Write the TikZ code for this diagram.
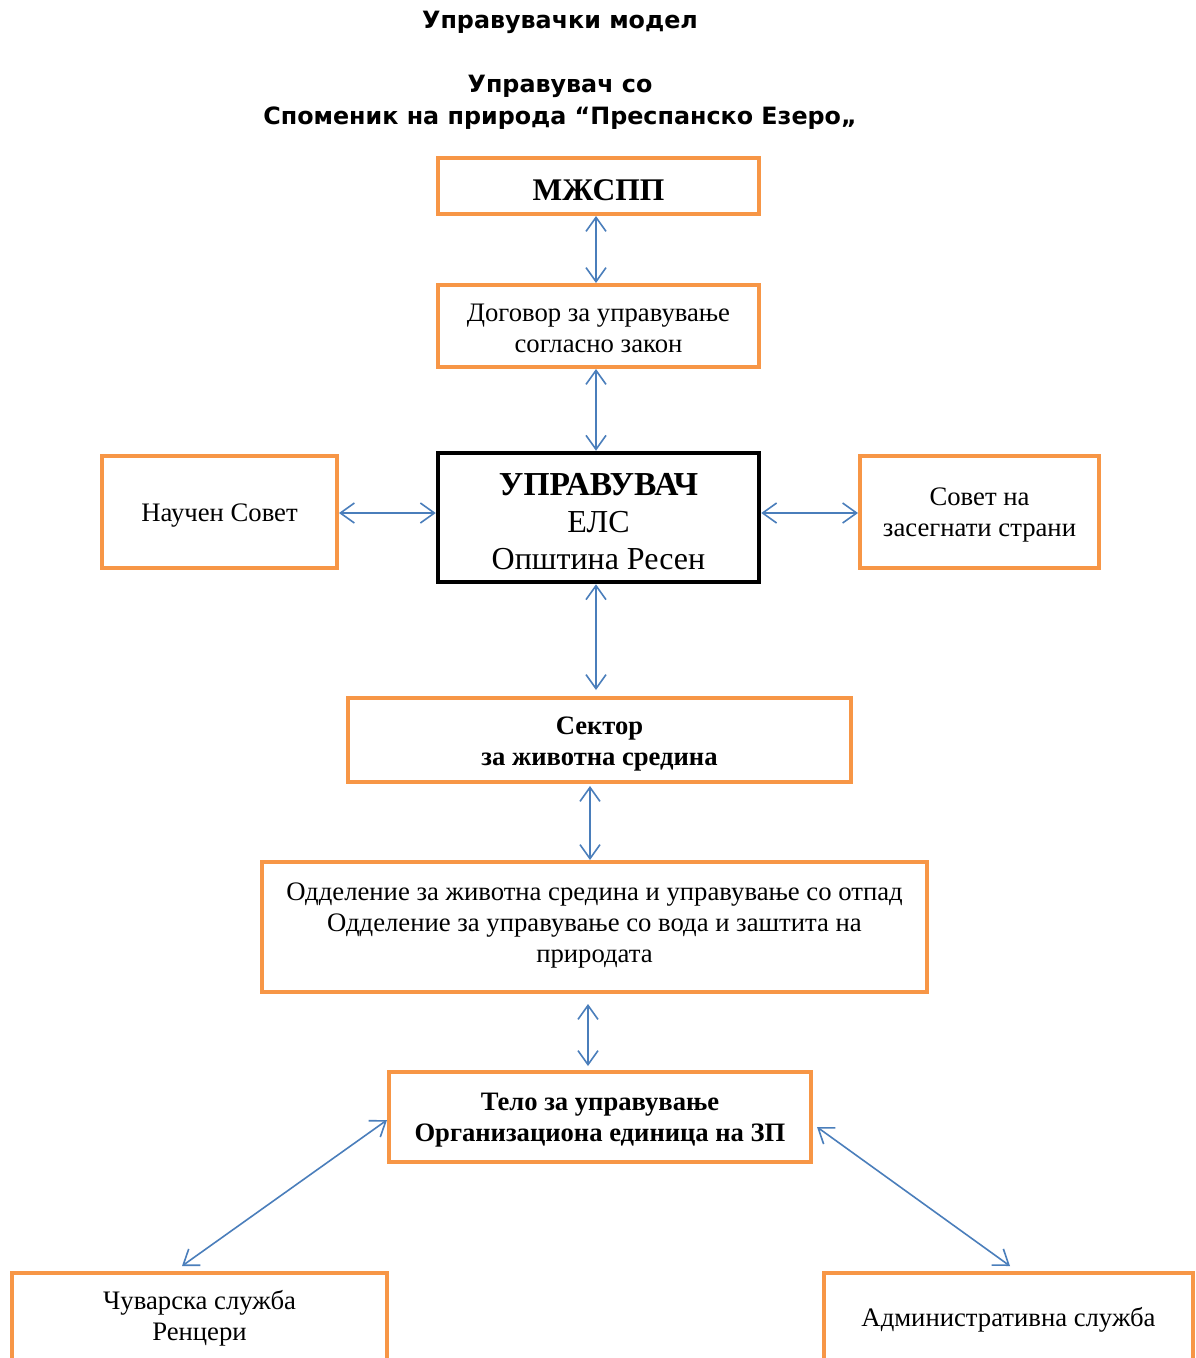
\documentclass[tikz,border=0pt]{standalone}
\usepackage{fontspec}
\setmainfont{Liberation Serif}
\newfontfamily\titlefont{DejaVu Sans}
\usetikzlibrary{arrows.meta}
\definecolor{orng}{HTML}{F79646}
\definecolor{arrblue}{HTML}{4A7EBB}
\begin{document}
\begin{tikzpicture}[x=1pt,y=-1pt,
  obox/.style={draw=orng, line width=4pt, inner sep=0pt},
  kbox/.style={draw=black, line width=4.5pt, inner sep=0pt},
  txt/.style={align=center, inner sep=0pt, font=\fontsize{26.7}{31}\selectfont},
  btxt/.style={txt, font=\bfseries\fontsize{26.6}{31}\selectfont},
  ttl/.style={align=center, font=\titlefont\bfseries\fontsize{23.8}{32}\selectfont},
  arr/.style={draw=arrblue, line width=1.6pt,
    {Straight Barb[length=14pt,width=20pt]}-{Straight Barb[length=14pt,width=20pt]}}]
\clip (0,0) rectangle (1195,1358);
\fill[white] (0,0) rectangle (1195,1358);
% titles
\node[ttl] (t1) at (560,22) {Управувачки модел};
\node[ttl] (t2) at (560,102) {Управувач со\\Споменик на природа “Преспанско Езеро„};
% boxes
\node[obox, minimum width=321pt, minimum height=56pt] (mz) at (598.5,186) {};
\node[obox, minimum width=321pt, minimum height=82pt] (dog) at (598.5,326) {};
\node[kbox, minimum width=321pt, minimum height=129pt] (upr) at (598.5,517.5) {};
\node[obox, minimum width=235pt, minimum height=112pt] (nauc) at (219.5,512) {};
\node[obox, minimum width=239pt, minimum height=112pt] (sov) at (979.5,512) {};
\node[obox, minimum width=503pt, minimum height=84pt] (sek) at (599.5,740) {};
\node[obox, minimum width=665pt, minimum height=130pt] (odd) at (594.5,927) {};
\node[obox, minimum width=422pt, minimum height=90pt] (tel) at (600,1117) {};
\node[obox, minimum width=375pt, minimum height=90pt] (cuv) at (199.5,1318) {};
\node[obox, minimum width=369pt, minimum height=90pt] (adm) at (1008.5,1318) {};
% texts
\node[btxt, font=\bfseries\fontsize{31.5}{34}\selectfont] (mzT) at ([yshift=-4pt]mz.center) {МЖСПП};
\node[txt] (dogT) at ([yshift=-2.5pt]dog.center) {Договор за управување\\согласно закон};
\node[txt, font=\fontsize{32}{37}\selectfont] (uprT) at ([yshift=-4pt]upr.center) {{\fontsize{33.5}{37}\selectfont\bfseries УПРАВУВАЧ}\\ЕЛС\\Општина Ресен};
\node[txt] (naucT) at ([yshift=-4pt]nauc.center) {Научен Совет};
\node[txt] (sovT) at ([yshift=-3pt]sov.center) {Совет на\\засегнати страни};
\node[btxt] (sekT) at ([yshift=-4.5pt]sek.center) {Сектор\\за животна средина};
\node[txt] (oddT) at ([yshift=1.5pt]odd.center) {Одделение за животна средина и управување со отпад\\Одделение за управување со вода и заштита на\\природата};
\node[btxt] (telT) at ([yshift=-3pt]tel.center) {Тело за управување\\Организациона единица на ЗП};
\node[txt] (cuvT) at ([yshift=0pt]cuv.center) {Чуварска служба\\Ренцери};
\node[txt] (admT) at ([yshift=-2pt]adm.center) {Административна служба};
% connectors
\coordinate (hl) at (0,513);
\draw[arr] ([xshift=-2.5pt]mz.south) -- ([xshift=-2.5pt]dog.north);
\draw[arr] ([xshift=-2.5pt]dog.south) -- ([xshift=-2.5pt]upr.north);
\draw[arr] (nauc.east |- hl) -- (upr.west |- hl);
\draw[arr] (upr.east |- hl) -- (sov.west |- hl);
\draw[arr] ([xshift=-2.5pt]upr.south) -- ([xshift=-2.5pt,yshift=6pt]upr.south |- sek.north);
\draw[arr] ([xshift=-9.5pt,yshift=-2pt]sek.south) -- ([xshift=-9.5pt]sek.south |- odd.north);
\draw[arr] ([xshift=-6.5pt,yshift=-10pt]odd.south) -- ([xshift=-6.5pt,yshift=4pt]odd.south |- tel.north);
\draw[arr] ([yshift=-3pt]tel.west) -- ([shift={(-17.5pt,5pt)}]cuv.north);
\draw[arr] ([shift={(4pt,-10pt)}]tel.east) -- ([shift={(1.5pt,5pt)}]adm.north);
\end{tikzpicture}
\end{document}
